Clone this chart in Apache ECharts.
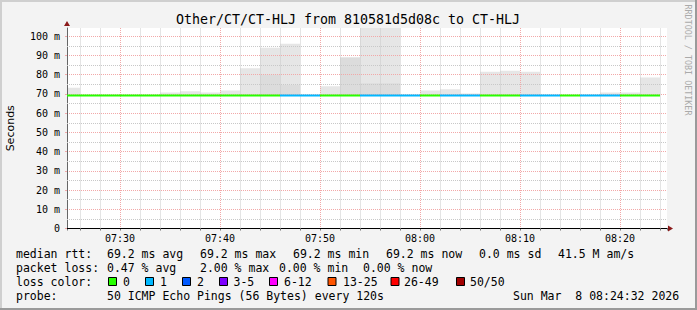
<!DOCTYPE html>
<html><head><meta charset="utf-8">
<script src="https://cdn.jsdelivr.net/npm/echarts@6/dist/echarts.min.js"></script>
<style>html,body{margin:0;padding:0;background:#f3f3f3}#c{width:697px;height:310px}</style>
</head><body><div id="c"></div>
<script>
// ---- data ----
const chartTitle = 'Other/CT/CT-HLJ from 810581d5d08c to CT-HLJ';
const yAxisName = 'Seconds';
const timeRange = ['07:24:42', '08:24:42'];
const slotMinutes = 2;
const slotTimes = ['07:24','07:26','07:28','07:30','07:32','07:34','07:36','07:38','07:40','07:42',
                   '07:44','07:46','07:48','07:50','07:52','07:54','07:56','07:58','08:00','08:02',
                   '08:04','08:06','08:08','08:10','08:12','08:14','08:16','08:18','08:20','08:22'];
const medianRtt = [69.2,69.2,69.2,69.2,69.2,69.2,69.2,69.2,69.2,69.2,
                   69.2,69.2,69.2,69.2,69.2,69.2,69.2,69.2,69.2,69.2,
                   69.2,69.2,69.2,69.2,69.2,69.2,69.2,69.2,69.2,69.2];
const smokeTop = [73.2,69.2,69.2,69.2,69.2,70.8,71.4,70.7,71.8,83.3,
                  94.0,96.1,69.2,74.0,88.9,110,110,69.2,71.8,72.4,
                  70.2,81.6,82.1,81.6,69.2,69.2,69.2,70.7,70.7,78.5];
const smokeDarkTop = [69.2,69.2,69.2,69.2,69.2,69.2,69.2,69.2,69.2,69.2,
                      80.0,74.7,69.2,69.2,88.9,75.5,75.5,69.2,69.2,69.2,
                      69.2,69.2,69.2,69.2,69.2,69.2,69.2,69.2,69.2,69.2];
const lossCount = [0,0,0,0,0,0,0,0,0,0,
                   0,1,1,0,0,1,1,1,0,1,
                   1,0,0,1,1,0,1,1,0,0];
const lossColors = ['#26ff00','#00b8ff','#0059ff','#7e00ff','#ff00ff','#ff5500','#ff0000','#a10000'];
const lossLabels = ['0','1','2','3-5','6-12','13-25','26-49','50/50'];
const yMax = 104.3;
const yMajorStep = 10, yMinorStep = 5;
const xMajorStep = 10, xMinorStep = 2;
const legendRows = [
  ['median rtt:', '69.2 ms avg', '69.2 ms max', '69.2 ms min', '69.2 ms now', '0.0 ms sd', '41.5 M am/s'],
  ['packet loss:', '0.47 % avg', '2.00 % max', '0.00 % min', '0.00 % now'],
  ['loss color:'],
  ['probe:', '50 ICMP Echo Pings (56 Bytes) every 120s', 'Sun Mar  8 08:24:32 2026']
];
const legendX = [
  [16, 107, 200, 293, 386, 479, 558],
  [16, 107, 200, 279, 363],
  [16],
  [16, 107, 513]
];
const legendY = [254, 268, 282, 296];
const lossBoxX = [108.5, 145.5, 182.5, 219.5, 269.5, 328, 391, 456.5];
const lossTextX = [123, 160, 197, 233.5, 284, 343, 404, 470];
const credit = 'RRDTOOL / TOBI OETIKER';

// ---- helpers ----
function toMin(s){ const p = s.split(':').map(Number); return p[0]*60 + p[1] + (p[2]||0)/60; }
function pad(n){ return (n<10?'0':'') + n; }
function fmtTime(v){ const m = Math.round(v); return pad(Math.floor(m/60)) + ':' + pad(m%60); }
const xMin = toMin(timeRange[0]), xMax = toMin(timeRange[1]);
const MONO = '"DejaVu Sans Mono", monospace';
const LEG_FS = 11.5;

const slotData = slotTimes.map((t,i)=>[toMin(t), smokeTop[i], medianRtt[i], smokeDarkTop[i], lossCount[i]]);
const xMinorGrid = [];
for (let m = Math.ceil(xMin/xMinorStep)*xMinorStep; m < xMax; m += xMinorStep) if (m % xMajorStep) xMinorGrid.push(m);
const yMinorGrid = [];
for (let v = yMinorStep; v < yMax; v += yMajorStep) yMinorGrid.push(v);

const chart = echarts.init(document.getElementById('c'), null, {renderer:'svg'});

function clipTo(params, r){
  const cs = params.coordSys;
  return echarts.graphic.clipRectByRect(r, {x:cs.x, y:cs.y, width:cs.width, height:cs.height});
}

const graphics = [];
graphics.push({type:'rect', shape:{x:0,y:0,width:697,height:2}, style:{fill:'#cfcfcf'}, silent:true});
graphics.push({type:'rect', shape:{x:0,y:0,width:2,height:310}, style:{fill:'#cfcfcf'}, silent:true});
graphics.push({type:'rect', shape:{x:695,y:0,width:2,height:310}, style:{fill:'#9a9a9a'}, silent:true});
graphics.push({type:'rect', shape:{x:0,y:308,width:697,height:2}, style:{fill:'#9a9a9a'}, silent:true});
graphics.push({type:'text', x:348, y:19, style:{text:chartTitle, fontSize:13.3, fontFamily:MONO, fill:'#000', align:'center', verticalAlign:'middle', textAlign:'center', textVerticalAlign:'middle'}});
graphics.push({type:'text', x:688, y:60, rotation:-Math.PI/2, style:{text:credit, fontSize:8.4, fontFamily:MONO, fill:'#aaaaaa', align:'center', verticalAlign:'middle', textAlign:'center', textVerticalAlign:'middle'}});
legendRows.forEach((row, r)=>{
  row.forEach((txt, k)=>{
    graphics.push({type:'text', x:legendX[r][k], y:legendY[r], style:{text:txt, fontSize:LEG_FS, fontFamily:MONO, fill:'#000', align:'left', verticalAlign:'middle', textAlign:'left', textVerticalAlign:'middle'}});
  });
});
lossLabels.forEach((lab, k)=>{
  graphics.push({type:'rect', shape:{x:lossBoxX[k], y:legendY[2]-4.5, width:8, height:8}, style:{fill:lossColors[k], stroke:'#000', lineWidth:1}});
  graphics.push({type:'text', x:lossTextX[k], y:legendY[2], style:{text:lab, fontSize:LEG_FS, fontFamily:MONO, fill:'#000', align:'left', verticalAlign:'middle', textAlign:'left', textVerticalAlign:'middle'}});
});

const dotted = [1,1];
const minorColor = '#c8c8c8', majorColor = '#f2a8a8';
chart.setOption({
  backgroundColor:'#f3f3f3',
  animation:false,
  grid:{left:67, right:30, top:28, bottom:81.5, containLabel:false, outerBoundsMode:'none',
        show:true, backgroundColor:'#ffffff', borderWidth:0, z:-5},
  xAxis:[
    {type:'value', position:'bottom', min:xMin, max:xMax, minInterval:xMinorStep, maxInterval:xMinorStep, splitNumber:30, z:0,
     axisLine:{show:false}, axisLabel:{show:false},
     axisTick:{show:true, length:2, lineStyle:{color:'#777'}},
     splitLine:{show:false}},
    {type:'value', position:'bottom', min:xMin, max:xMax, minInterval:xMajorStep, maxInterval:xMajorStep, splitNumber:6, z:1,
     axisLine:{show:true, lineStyle:{color:'#000', width:1}},
     axisTick:{show:false},
     axisLabel:{show:true, showMinLabel:false, showMaxLabel:false, formatter:fmtTime, fontFamily:MONO, fontSize:10, color:'#000', margin:5},
     splitLine:{show:true, showMinLine:false, showMaxLine:false, lineStyle:{color:majorColor, type:dotted, width:1}}}
  ],
  yAxis:[
    {type:'value', position:'left', min:0, max:yMax, interval:yMajorStep, z:1,
     name:yAxisName, nameLocation:'middle', nameRotate:90, nameGap:51,
     nameTextStyle:{fontFamily:'"DejaVu Sans", sans-serif', fontSize:11, color:'#000'},
     axisLine:{show:true, lineStyle:{color:'#666', width:1}},
     axisTick:{show:true, length:2, lineStyle:{color:majorColor}},
     axisLabel:{showMaxLabel:false, formatter:v=> v===0 ? '0' : v+' m', fontFamily:MONO, fontSize:10, color:'#000', margin:7},
     splitLine:{show:true, showMinLine:false, showMaxLine:false, lineStyle:{color:majorColor, type:dotted, width:1}}}
  ],
  series:[
    {type:'custom', name:'smoke', xAxisIndex:0, yAxisIndex:0, z:-1, clip:true, silent:true,
     data:slotData,
     renderItem:(params, api)=>{
       const t = api.value(0), top = api.value(1), base = api.value(2), dark = api.value(3);
       const a = api.coord([t, base]), b = api.coord([t+slotMinutes, top]), c = api.coord([t+slotMinutes, dark]);
       const children = [];
       const light = clipTo(params, {x:a[0], y:b[1], width:b[0]-a[0], height:a[1]-b[1]});
       if (light && top > base) children.push({type:'rect', shape:light, style:{fill:'#e6e6e6'}});
       const dk = clipTo(params, {x:a[0], y:c[1], width:c[0]-a[0], height:a[1]-c[1]});
       if (dk && dark > base) children.push({type:'rect', shape:dk, style:{fill:'#dcdcdc'}});
       return {type:'group', children};
     }},
    {type:'line', name:'minor grid', xAxisIndex:0, yAxisIndex:0, z:0, silent:true,
     data:slotData.map(d=>[d[0], d[2]]), showSymbol:false, symbol:'none', lineStyle:{opacity:0},
     markLine:{silent:true, symbol:['none','none'], label:{show:false}, animation:false,
       lineStyle:{color:minorColor, type:dotted, width:1},
       emphasis:{disabled:true},
       data: xMinorGrid.map(v=>({xAxis:v})).concat(yMinorGrid.map(v=>({yAxis:v})))}},
    {type:'custom', name:'median', xAxisIndex:0, yAxisIndex:0, z:5, clip:true, silent:true,
     data:slotData,
     renderItem:(params, api)=>{
       const t = api.value(0), med = api.value(2), loss = api.value(4);
       const a = api.coord([t, med]), b = api.coord([t+slotMinutes, med]);
       const r = clipTo(params, {x:a[0], y:a[1]-1, width:b[0]-a[0], height:2});
       if (!r) return null;
       return {type:'rect', shape:r, style:{fill:lossColors[loss]}};
     }}
  ],
  graphic:graphics
});

const pTop = chart.convertToPixel({xAxisIndex:1, yAxisIndex:0}, [xMin, yMax]);
const pRight = chart.convertToPixel({xAxisIndex:1, yAxisIndex:0}, [xMax, 0]);
chart.setOption({graphic:graphics.concat([
  {type:'polygon', shape:{points:[[pTop[0]-3, pTop[1]-2],[pTop[0]+3, pTop[1]-2],[pTop[0], pTop[1]-7]]}, style:{fill:'#8b1a1a'}},
  {type:'polygon', shape:{points:[[pRight[0]+1, pRight[1]-3],[pRight[0]+1, pRight[1]+3],[pRight[0]+6, pRight[1]]]}, style:{fill:'#8b1a1a'}}
])});
</script></body></html>
